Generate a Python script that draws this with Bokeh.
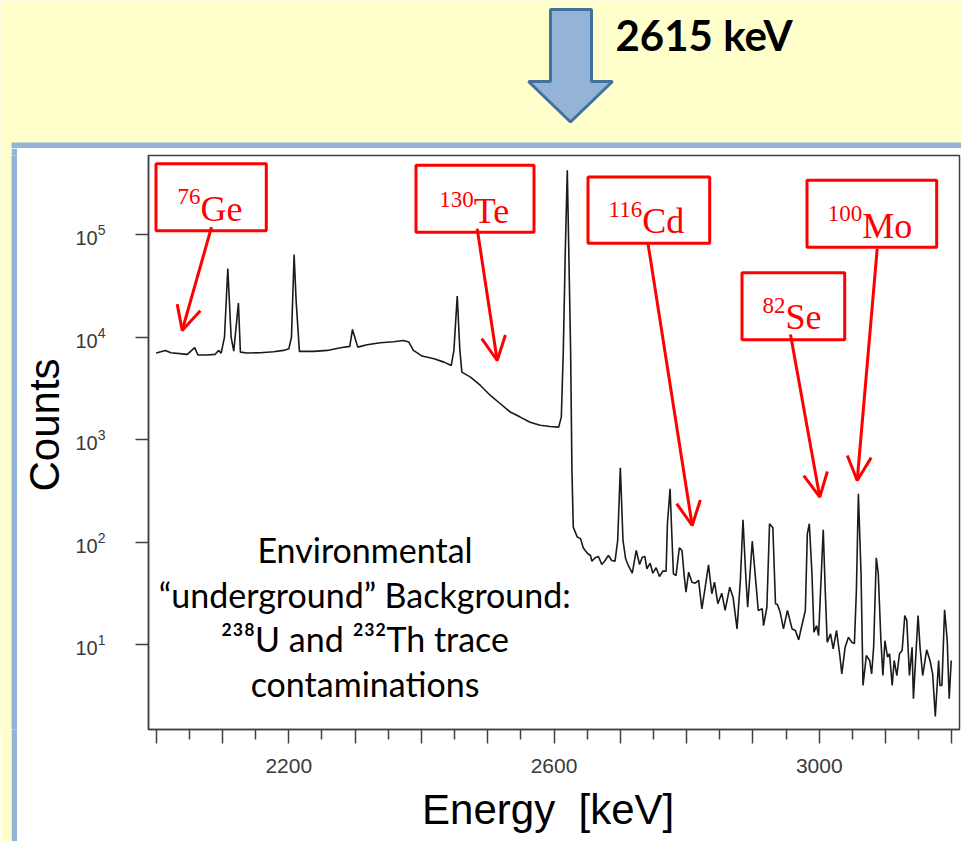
from bokeh.core.properties import value
from bokeh.embed import file_html
from bokeh.layouts import column, row
from bokeh.models import (Arrow, BoxAnnotation, CustomJSTickFormatter, FixedTicker,
                          Label, OpenHead, Range1d)
from bokeh.plotting import figure
from bokeh.resources import INLINE

# Gamma background spectrum: energy (keV) and counts per bin
energy_kev = [
    2000, 2014, 2022, 2047, 2058, 2063, 2077, 2089, 2094, 2098,
    2103, 2108, 2113, 2117, 2124, 2127, 2137, 2157, 2177, 2192,
    2200, 2204, 2208, 2211, 2216,
    2238, 2258, 2278, 2292, 2296, 2304, 2318, 2338, 2358, 2373,
    2381, 2388, 2401, 2419, 2434, 2445, 2449, 2454, 2458, 2461,
    2474, 2489, 2504, 2519, 2534, 2549, 2564, 2579, 2594, 2607,
    2611, 2614, 2617, 2620, 2625, 2627, 2629,
    2635, 2640, 2644, 2647, 2651, 2655, 2657, 2662, 2667, 2672,
    2677, 2682, 2687, 2692, 2696, 2700, 2704, 2708, 2712, 2718,
    2724, 2729, 2733, 2737, 2740, 2745, 2749, 2754, 2759, 2764,
    2769, 2771, 2775, 2778, 2780, 2784, 2789, 2793, 2796, 2799,
    2803, 2808, 2813, 2818, 2823, 2828, 2833, 2838, 2842, 2847,
    2853, 2858, 2865, 2870, 2876, 2881, 2885, 2889, 2892, 2899,
    2905, 2908, 2914, 2916, 2921, 2925, 2930, 2934, 2937, 2941,
    2946, 2952, 2959, 2964, 2969, 2972, 2979, 2982, 2985, 2989,
    2992, 2996, 2999, 3006, 3009, 3012, 3017, 3021, 3026, 3031,
    3034, 3039, 3044, 3049, 3053, 3056, 3059, 3063, 3066, 3071,
    3076, 3079, 3082, 3086, 3089, 3093, 3096, 3099, 3103, 3106,
    3110, 3113, 3117, 3121, 3125, 3129, 3132, 3136, 3140, 3142,
    3149, 3152, 3156, 3162, 3167, 3171, 3175, 3180, 3182, 3185,
    3189, 3193, 3196, 3199,
]
counts = [
    7000, 7430, 7060, 6800, 7900, 6700, 6700, 6800, 7430, 7000,
    10000, 46700, 10000, 7300, 21500, 7150, 7000, 7060, 7200, 7430,
    7700, 10000, 64000, 22900, 7270,
    7270, 7430, 7900, 8130, 11900, 8000, 8450, 8840, 9040, 9300,
    8960, 7430, 6540, 6170, 5710, 5300, 7430, 25200, 7430, 4560,
    4080, 3380, 2700, 2240, 1860, 1660, 1480, 1380, 1345, 1325,
    1660, 7430, 70400, 426000, 7430, 500, 140,
    112, 108, 88.0, 82.8, 76.9, 74.0, 65.1, 70.3, 72.3, 60.4,
    66.1, 74.0, 66.1, 65.1, 104, 532, 104, 68.7, 59.1, 49.7,
    82.8, 60.4, 71.2, 72.3, 54.9, 62.2, 49.7, 56.1, 46.1, 52.0,
    52.0, 151, 332, 104, 49.0, 47.2, 88.0, 82.8, 49.0, 32.4,
    50.8, 40.6, 39.7, 42.2, 22.3, 36.3, 60.0, 31.3, 40.6, 25.0,
    31.7, 21.5, 36.3, 29.0, 14.2, 42.2, 165, 49.0, 23.1, 102,
    36.3, 21.5, 22.3, 15.3, 23.1, 151, 138, 25.0, 24.6, 20.7,
    14.2, 21.5, 14.2, 13.7, 11.1, 13.7, 21.5, 120, 151, 49.0,
    13.2, 15.3, 12.2, 132, 33.7, 10.5, 12.7, 9.08, 13.7, 7.81,
    5.17, 9.41, 11.8, 10.5, 10.2, 33.7, 296, 49.0, 3.98, 7.81,
    6.98, 5.17, 9.41, 70.3, 49.0, 10.9, 4.98, 10.9, 7.52, 8.12,
    3.98, 6.98, 4.98, 8.12, 8.74, 19.2, 17.2, 4.98, 9.41, 2.95,
    19.2, 9.41, 4.98, 8.88, 6.98, 5.17, 1.98, 6.98, 3.98, 3.98,
    21.8, 10.9, 2.95, 6.98,
]

x_major_ticks = list(range(2000, 3201, 100))
x_minor_ticks = list(range(2050, 3200, 100))
x_labelled_ticks = [2200, 2600, 3000]
y_ticks = [1e1, 1e2, 1e3, 1e4, 1e5]

peak_label = "2615 keV"
isotopes = [("76", "Ge"), ("130", "Te"), ("116", "Cd"), ("82", "Se"), ("100", "Mo")]
note_lines = ["Environmental", "\u201cunderground\u201d Background:",
              "\u00b2\u00b3\u2078U and \u00b2\u00b3\u00b2Th trace", "contaminations"]

YELLOW = "#FFFFCC"
PANEL_BLUE = "#95B3D7"
ARROW_EDGE = "#41719C"
AXIS_GREY = "#404040"
RED = "#FF0000"

PAGE_W, PAGE_H = 961, 841
BAND_H = 148          # yellow band with the 2615 keV pointer
MARGIN_W = 11         # yellow slide margin on the left
BORDER_W = 6          # blue panel border
LEFT_W = MARGIN_W + BORDER_W
FRAME_TOP, FRAME_BOTTOM, FRAME_LEFT, FRAME_RIGHT = 155, 729, 148, 959
BODY_H = PAGE_H - BAND_H
NBSP = "\u00a0"


def bare(width, height, colour):
    """An axis-less figure in pixel-like units (y pointing down)."""
    f = figure(width=width, height=height,
               x_range=Range1d(0, width), y_range=Range1d(height, 0),
               output_backend="svg", toolbar_location=None,
               x_axis_location=None, y_axis_location=None, min_border=0)
    f.xgrid.visible = False
    f.ygrid.visible = False
    f.outline_line_color = None
    f.background_fill_color = colour
    f.border_fill_color = colour
    return f


# ---- top band: slide background, panel border and the 2615 keV pointer
band = bare(PAGE_W, BAND_H, YELLOW)
band.quad(left=MARGIN_W, right=PAGE_W, top=142, bottom=BAND_H, fill_color=PANEL_BLUE,
          line_color=None)
band.patch([550, 591, 591, 612, 570, 528, 550], [9, 9, 81, 81, 121.5, 81, 81],
           fill_color=PANEL_BLUE, line_color=ARROW_EDGE, line_width=3)
band.text(x=[615], y=[34.5], text=[peak_label], text_font=value("Lato"),
          text_font_style="bold", text_font_size="42px", text_color="black",
          text_baseline="middle")

# ---- left side: slide margin and panel border
margin = bare(MARGIN_W, BODY_H, YELLOW)
border = bare(BORDER_W, BODY_H, PANEL_BLUE)

# ---- the spectrum
p = figure(width=PAGE_W - LEFT_W, height=BODY_H,
           x_range=(1988.4, 3211.5), y_range=(1.48, 5.94e5), y_axis_type="log",
           output_backend="svg", toolbar_location=None,
           min_border_left=FRAME_LEFT - LEFT_W, min_border_right=PAGE_W - FRAME_RIGHT,
           min_border_top=FRAME_TOP - BAND_H, min_border_bottom=PAGE_H - FRAME_BOTTOM)
p.background_fill_color = "white"
p.border_fill_color = "white"
p.outline_line_color = AXIS_GREY
p.outline_line_width = 1.5
p.xgrid.visible = False
p.ygrid.visible = False

xa = p.xaxis[0]
xa.ticker = FixedTicker(ticks=x_major_ticks, minor_ticks=x_minor_ticks)
xa.formatter = CustomJSTickFormatter(
    args=dict(shown=x_labelled_ticks),
    code="return shown.includes(Math.round(tick)) ? Math.round(tick).toString() : ''")
xa.major_tick_in = 0
xa.major_tick_out = 14
xa.minor_tick_in = 0
xa.minor_tick_out = 10
xa.major_label_standoff = 15
xa.axis_label = "Energy" + NBSP * 2 + "[keV]" + NBSP
xa.axis_label_standoff = 10

ya = p.yaxis[0]
ya.ticker = FixedTicker(ticks=y_ticks, minor_ticks=[])
ya.major_tick_in = 0
ya.major_tick_out = 13
ya.major_label_standoff = 30
ya.axis_label = NBSP * 3 + "Counts"
ya.axis_label_standoff = 4

for ax in (xa, ya):
    ax.axis_line_color = AXIS_GREY
    ax.axis_line_width = 1.5
    ax.major_tick_line_color = AXIS_GREY
    ax.major_tick_line_width = 1.5
    ax.minor_tick_line_color = AXIS_GREY if ax is xa else None
    ax.minor_tick_line_width = 1.5
    ax.major_label_text_font = "Liberation Sans"
    ax.major_label_text_color = "#3a3a3a"
    ax.axis_label_text_font = "Liberation Sans"
    ax.axis_label_text_font_size = "42px"
    ax.axis_label_text_font_style = "normal"
    ax.axis_label_text_color = "black"
xa.major_label_text_font_size = "21px"
ya.major_label_text_font_size = "20px"

p.line(energy_kev, counts, line_color="#1a1a1a", line_width=1.6)


def at(x, y):
    """Page position -> position on the spectrum figure's canvas."""
    return x - LEFT_W, y - BAND_H


def page_box(left, right, top, bottom, **kw):
    l, t = at(left, top)
    r, b = at(right, bottom)
    return BoxAnnotation(left=l, right=r, top=t, bottom=b,
                         left_units="canvas", right_units="canvas",
                         top_units="canvas", bottom_units="canvas", **kw)


def page_label(x, y, text, **kw):
    cx, cy = at(x, y)
    return Label(x=cx, y=cy, text=text, x_units="canvas", y_units="canvas", **kw)


# isotope call-outs: box, label and arrow to the Q-value region
boxes = [(155.5, 265.8, 163.2, 230.2), (415.5, 533.5, 164.8, 231.8),
         (587.5, 709.2, 176.5, 242.8), (741.5, 844.2, 272.2, 339.2),
         (806.5, 936.2, 179.8, 246.8)]
anchors = [(200, 208.3), (473.3, 210.7), (641.7, 220.7), (785, 316.7), (861.7, 225)]
pointers = [((211, 226.7), (181.7, 330)), ((476.7, 228.3), (496.7, 360)),
            ((647.3, 241.7), (691.7, 525)), ((790, 334), (819.3, 496.7)),
            ((876.7, 248.3), (856.7, 480))]
for (mass, sym), box, (ax_, ay_), (start, end) in zip(isotopes, boxes, anchors, pointers):
    p.add_layout(page_box(*box, fill_color=None, line_color=RED, line_alpha=1,
                          line_width=3))
    p.add_layout(page_label(ax_, ay_, sym, text_font="Liberation Serif",
                            text_font_size="36px", text_color=RED,
                            text_align="left", text_baseline="alphabetic"))
    p.add_layout(page_label(ax_, ay_ - 12, mass, text_font="Liberation Serif",
                            text_font_size="23px", text_color=RED,
                            text_align="right", text_baseline="alphabetic"))
    (sx0, sy0), (sx1, sy1) = at(*start), at(*end)
    p.add_layout(Arrow(x_start=sx0, y_start=sy0, x_end=sx1, y_end=sy1,
                       start_units="canvas", end_units="canvas",
                       line_color=RED, line_width=3,
                       end=OpenHead(size=24, line_color=RED, line_width=3)))

# background note
for text, y in zip(note_lines, [549.3, 594, 638.3, 683.3]):
    p.add_layout(page_label(364.5, y, text, text_font="Lato", text_font_size="34px",
                            text_color="black", text_align="center",
                            text_baseline="alphabetic"))

layout = column(band, row(margin, border, p))
open("out.html", "w").write(file_html(layout, INLINE))
